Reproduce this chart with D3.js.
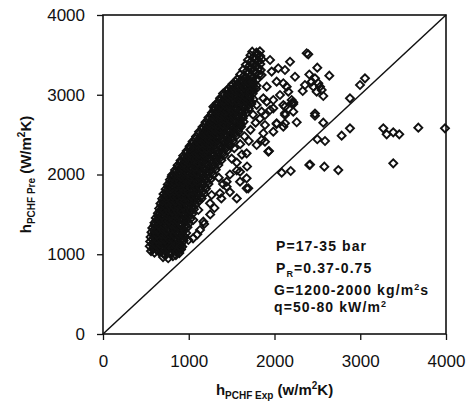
<!DOCTYPE html>
<html>
<meta charset="utf-8">
<head>
<script src="https://d3js.org/d3.v7.min.js"></script>
<style>
  body { margin: 0; background: #fff; }
  text { font-family: "Liberation Sans", Arial, sans-serif; fill: #111; }
</style>
</head>
<body>
<div id="chart"></div>
<script>
// tick values for both axes
var ticksX = [0, 1000, 2000, 3000, 4000];
var ticksY = [0, 1000, 2000, 3000, 4000];

// dense band of points [h exp, h pre]
var denseBand = [
  [700,965],[760,950],[815,975],[850,990],
  [560,1040],[600,1020],[650,1035],[700,1010],[745,1045],[795,1025],[850,1040],[890,1015],
  [545,1100],[590,1080],[640,1095],[690,1075],[735,1105],[780,1085],[830,1100],[880,1080],[925,1095],
  [550,1160],[600,1140],[645,1155],[695,1145],[740,1165],[790,1140],[840,1155],[890,1150],[940,1170],
  [555,1215],[605,1200],[650,1220],[700,1205],[750,1225],[800,1210],[850,1195],[900,1220],[955,1210],
  [565,1275],[615,1260],[660,1280],[710,1265],[760,1285],[810,1270],[860,1255],[915,1280],[970,1265],
  [575,1330],[625,1345],[670,1320],[720,1340],[770,1325],[820,1345],[870,1330],[925,1320],[985,1340],
  [600,1395],[645,1380],[690,1400],[740,1385],[790,1405],[840,1390],[890,1375],[945,1400],[1000,1385],
  [615,1455],[660,1440],[710,1460],[760,1445],[810,1465],[860,1450],[910,1435],[960,1455],[1020,1445],
  [640,1515],[685,1500],[730,1520],[780,1505],[830,1525],[880,1510],[930,1495],[985,1515],[1040,1505],
  [655,1575],[700,1560],[745,1580],[795,1565],[845,1585],[895,1570],[950,1555],[1005,1575],[1060,1565],
  [670,1635],[715,1620],[760,1640],[810,1625],[860,1645],[910,1630],[965,1615],[1020,1635],[1080,1625],
  [690,1695],[735,1680],[780,1700],[830,1685],[880,1705],[930,1690],[985,1675],[1040,1695],[1100,1685],[1150,1700],
  [705,1755],[750,1740],[800,1760],[850,1745],[900,1765],[950,1750],[1005,1735],[1060,1755],[1120,1745],[1180,1760],
  [730,1815],[775,1800],[825,1820],[875,1805],[925,1825],[975,1810],[1030,1795],[1085,1815],[1140,1805],[1200,1820],
  [755,1875],[800,1860],[850,1880],[900,1865],[950,1885],[1000,1870],[1055,1855],[1110,1875],[1170,1865],[1230,1880],
  [780,1935],[825,1920],[875,1940],[925,1925],[975,1945],[1025,1930],[1080,1915],[1135,1935],[1195,1925],[1255,1940],
  [805,1995],[850,1980],[900,2000],[950,1985],[1000,2005],[1050,1990],[1105,1975],[1160,1995],[1220,1985],[1285,2000],
  [840,2055],[885,2040],[935,2060],[985,2045],[1035,2065],[1085,2050],[1140,2035],[1195,2055],[1255,2045],[1315,2060],
  [870,2115],[915,2100],[965,2120],[1015,2105],[1065,2125],[1115,2110],[1170,2095],[1225,2115],[1285,2105],[1345,2120],
  [905,2175],[950,2160],[1000,2180],[1050,2165],[1100,2185],[1150,2170],[1205,2155],[1260,2175],[1320,2165],[1380,2180],
  [935,2235],[980,2220],[1030,2240],[1080,2225],[1130,2245],[1180,2230],[1235,2215],[1290,2235],[1350,2225],[1410,2240],
  [975,2295],[1020,2280],[1070,2300],[1120,2285],[1170,2305],[1220,2290],[1275,2275],[1330,2295],[1390,2285],[1450,2300],
  [1010,2355],[1055,2340],[1105,2360],[1155,2345],[1205,2365],[1255,2350],[1310,2335],[1365,2355],[1425,2345],[1485,2360],
  [1045,2415],[1090,2400],[1140,2420],[1190,2405],[1240,2425],[1290,2410],[1345,2395],[1400,2415],[1460,2405],[1515,2420],
  [1085,2475],[1130,2460],[1180,2480],[1230,2465],[1280,2485],[1330,2470],[1385,2455],[1440,2475],[1495,2465],[1550,2480],
  [1120,2535],[1165,2520],[1215,2540],[1265,2525],[1315,2545],[1365,2530],[1420,2515],[1475,2535],[1530,2525],[1580,2540],
  [1160,2595],[1205,2580],[1255,2600],[1305,2585],[1355,2605],[1405,2590],[1460,2575],[1510,2595],[1565,2585],[1610,2600],
  [1195,2655],[1240,2640],[1290,2660],[1340,2645],[1390,2665],[1440,2650],[1490,2635],[1545,2655],[1600,2645],[1640,2660],
  [1230,2715],[1275,2700],[1325,2720],[1375,2705],[1425,2725],[1475,2710],[1525,2695],[1580,2715],[1630,2705],
  [1270,2775],[1315,2760],[1365,2780],[1415,2765],[1465,2785],[1515,2770],[1565,2755],[1620,2775],[1670,2765],
  [1300,2835],[1345,2820],[1395,2840],[1445,2825],[1495,2845],[1545,2830],[1600,2815],[1650,2835],[1700,2825],
  [1330,2895],[1375,2880],[1425,2900],[1475,2885],[1525,2905],[1575,2890],[1630,2875],[1680,2895],[1730,2885],
  [1365,2955],[1410,2940],[1460,2960],[1510,2945],[1560,2965],[1610,2950],[1660,2935],[1710,2955],[1755,2945],
  [1400,3015],[1450,3000],[1500,3020],[1550,3005],[1600,3025],[1650,3010],[1700,2995],[1745,3015],
  [1460,3075],[1505,3060],[1555,3080],[1605,3065],[1655,3085],[1700,3070],[1750,3055],[1785,3075],
  [1510,3135],[1555,3120],[1605,3140],[1650,3125],[1700,3145],[1745,3130],[1790,3115],
  [1565,3195],[1610,3180],[1655,3200],[1700,3185],[1745,3205],[1795,3190],
  [1600,3255],[1645,3240],[1690,3260],[1735,3245],[1780,3265],[1820,3250],
  [1635,3315],[1680,3300],[1720,3320],[1765,3305],[1810,3325],[1840,3310],
  [1665,3375],[1705,3360],[1745,3380],[1790,3365],[1835,3385],
  [1690,3435],[1730,3420],[1770,3440],[1815,3425],[1850,3445],
  [1720,3495],[1760,3480],[1800,3500],[1835,3485],
  [1740,3540],[1790,3530],[1830,3545]
];

// more points packed between the rows above, where the band is solid black
var denseFill = [
  [730,990],[790,1000],
  [580,1065],[625,1055],[675,1070],[720,1060],[770,1070],[820,1058],[870,1068],[910,1060],
  [570,1125],[615,1120],[665,1130],[715,1118],[760,1128],[810,1120],[860,1130],[905,1122],
  [575,1185],[625,1180],[670,1190],[720,1178],[770,1188],[820,1180],[870,1190],[920,1182],
  [580,1245],[630,1240],[680,1250],[730,1238],[780,1248],[830,1240],[880,1250],[935,1242],
  [590,1305],[640,1300],[690,1310],[740,1298],[790,1308],[840,1300],[895,1310],[950,1302],
  [600,1365],[650,1360],[700,1370],[750,1358],[800,1368],[850,1360],[905,1370],[965,1362],
  [625,1425],[670,1420],[720,1430],[770,1418],[820,1428],[870,1420],[925,1430],[985,1422],
  [640,1485],[690,1480],[740,1490],[790,1478],[840,1488],[890,1480],[945,1490],[1005,1482],
  [665,1545],[710,1540],[760,1550],[810,1538],[860,1548],[910,1540],[965,1550],[1025,1542],
  [680,1605],[725,1600],[775,1610],[825,1598],[875,1608],[930,1600],[985,1610],[1045,1602],
  [695,1665],[745,1660],[795,1670],[845,1658],[895,1668],[950,1660],[1005,1670],[1065,1662],[1120,1668],
  [715,1725],[765,1720],[815,1730],[865,1718],[915,1728],[970,1720],[1025,1730],[1085,1722],[1145,1728],
  [735,1785],[785,1780],[835,1790],[885,1778],[935,1788],[990,1780],[1045,1790],[1105,1782],[1165,1788],
  [760,1845],[810,1840],[860,1850],[910,1838],[960,1848],[1015,1840],[1070,1850],[1130,1842],[1190,1848],
  [785,1905],[835,1900],[885,1910],[935,1898],[985,1908],[1040,1900],[1095,1910],[1155,1902],[1215,1908],
  [810,1965],[860,1960],[910,1970],[960,1958],[1010,1968],[1065,1960],[1120,1970],[1180,1962],[1240,1968],
  [840,2025],[890,2020],[940,2030],[990,2018],[1040,2028],[1095,2020],[1150,2030],[1210,2022],[1270,2028],
  [870,2085],[920,2080],[970,2090],[1020,2078],[1070,2088],[1125,2080],[1180,2090],[1240,2082],[1300,2088],
  [900,2145],[950,2140],[1000,2150],[1050,2138],[1100,2148],[1155,2140],[1210,2150],[1270,2142],[1330,2148],
  [935,2205],[985,2200],[1035,2210],[1085,2198],[1135,2208],[1190,2200],[1245,2210],[1305,2202],[1365,2208],
  [970,2265],[1020,2260],[1070,2270],[1120,2258],[1170,2268],[1225,2260],[1280,2270],[1340,2262],[1400,2268],
  [1005,2325],[1055,2320],[1105,2330],[1155,2318],[1205,2328],[1260,2320],[1315,2330],[1375,2322],[1435,2328],
  [1040,2385],[1090,2380],[1140,2390],[1190,2378],[1240,2388],[1295,2380],[1350,2390],[1410,2382],[1470,2388],
  [1080,2445],[1130,2440],[1180,2450],[1230,2438],[1280,2448],[1335,2440],[1390,2450],[1450,2442],[1505,2448],
  [1115,2505],[1165,2500],[1215,2510],[1265,2498],[1315,2508],[1370,2500],[1425,2510],[1485,2502],[1540,2508],
  [1155,2565],[1205,2560],[1255,2570],[1305,2558],[1355,2568],[1410,2560],[1465,2570],[1520,2562],[1575,2568],
  [1190,2625],[1240,2620],[1290,2630],[1340,2618],[1390,2628],[1445,2620],[1500,2630],[1555,2622],[1610,2628],
  [1225,2685],[1275,2680],[1325,2690],[1375,2678],[1425,2688],[1480,2680],[1535,2690],[1590,2682],
  [1265,2745],[1315,2740],[1365,2750],[1415,2738],[1465,2748],[1520,2740],[1575,2750],[1630,2742],
  [1295,2805],[1345,2800],[1395,2810],[1445,2798],[1495,2808],[1550,2800],[1605,2810],[1660,2802],
  [1325,2865],[1375,2860],[1425,2870],[1475,2858],[1525,2868],[1580,2860],[1635,2870],[1690,2862],
  [1360,2925],[1410,2920],[1460,2930],[1510,2918],[1560,2928],[1615,2920],[1670,2930],[1720,2922],
  [1400,2985],[1450,2980],[1500,2990],[1550,2978],[1600,2988],[1655,2980],[1710,2990],
  [1440,3045],[1490,3040],[1540,3050],[1590,3038],[1640,3048],[1690,3040],[1740,3050],
  [1495,3105],[1545,3100],[1595,3110],[1645,3098],[1695,3108],[1745,3100],
  [1545,3165],[1595,3160],[1645,3170],[1695,3158],[1745,3168]
];

// scattered points right of the band and towards the diagonal
var scatterPts = [
  [800,1075],[859,1032],[898,1095],[995,1179],[1131,1304],[1170,1408],[1053,1430],[1112,1555],
  [1248,1639],[1267,1743],[1364,1764],[1442,1847],[1598,1910],[1675,1827],[1442,1910],
  [1598,2035],[1675,1952],[1694,1827],[1928,2287],[1675,2266],[1792,2370],[1870,2517],[1889,2621],
  [1287,2850],[1015,2329],[801,1972],[2025,2633],[2122,2642],[2103,2871],[2219,2884],[1986,2537],
  [1948,3436],[2044,3332],[2122,3310],[2181,3414],[2239,3226],[2375,3520],[2355,3122],[2142,3101],
  [2064,2997],[2122,2746],[2200,2934],[2219,2788],[1948,2809],[1986,2934],[1870,2955],[1792,2872],
  [2025,3164],[1909,3101],[1850,3248],[1967,3290],[1714,3039],
  [2394,3507],[2499,3339],[2639,3239],[2406,3254],[2103,3144],[2161,3039],[2219,2905],[2122,2850],
  [2329,3047],[2433,3164],[2472,3206],[2511,3144],[2531,3101],[2550,3060],[2453,3101],[2492,3039],
  [2569,2984],[2472,2765],[2880,2955],[2997,3122],[3055,3206],
  [2472,2737],[2569,2650],[2259,2655],[2880,2579],[2783,2487],[2499,2442],[2589,2420],[1936,2295],
  [2406,2119],[2415,2125],[2581,2098],[2744,2056],[2084,2023],[2189,2044],
  [3269,2579],[3308,2504],[3385,2529],[3455,2504],[3677,2587],[3988,2579],[3385,2140],
  [1909,2913],[1986,2830],[2200,2893],[2122,2768],[1889,2746],[1850,2788],[2025,2642],
  [2103,2600],[1889,2412],[1850,2433],
  [1500,2200],[1560,2150],[1620,2250],[1530,2330],[1600,2380],[1700,2420],[1650,2480],[1720,2560],
  [1780,2650],[1830,2700],[1750,2750],[1680,2100],[1560,2050],[1480,2000],[1400,1880],[1350,1960],
  [1480,1780],[1560,1700],[1380,1700],[1300,1580],[1250,1500],[1180,1380],[1100,1250],[1050,1200]
];

// annotation lines
var noteLines = [
  {main: "P=17-35 bar"},
  {main: "P", sub: "R", rest: "=0.37-0.75"},
  {main: "G=1200-2000 kg/m", sup: "2", rest: "s"},
  {main: "q=50-80 kW/m", sup: "2"}
];

var width = 472, height = 403;

var x = d3.scaleLinear().domain([0, 4000]).range([103, 446]);
var y = d3.scaleLinear().domain([0, 4000]).range([334, 15]);

var svg = d3.select("#chart").append("svg")
    .attr("width", width)
    .attr("height", height);

// diagonal line y = x
svg.append("line")
    .attr("x1", x(0)).attr("y1", y(0))
    .attr("x2", x(4000)).attr("y2", y(4000))
    .attr("stroke", "#111").attr("stroke-width", 1.5);

// diamonds
var diamond = d3.symbol().type(d3.symbolSquare).size(32);
svg.append("g").selectAll("path")
    .data(denseBand.concat(denseFill, scatterPts))
    .join("path")
    .attr("d", diamond)
    .attr("transform", function(d) { return "translate(" + x(d[0]) + "," + y(d[1]) + ") rotate(45)"; })
    .attr("fill", "none")
    .attr("stroke", "#111")
    .attr("stroke-width", 1.9);

// frame
svg.append("rect")
    .attr("x", x(0)).attr("y", y(4000))
    .attr("width", x(4000) - x(0)).attr("height", y(0) - y(4000))
    .attr("fill", "none").attr("stroke", "#111").attr("stroke-width", 1.6);

// axes
var xAxis = svg.append("g")
    .attr("transform", "translate(0," + y(0) + ")")
    .call(d3.axisBottom(x).tickValues(ticksX).tickFormat(d3.format("d"))
      .tickSize(6).tickSizeOuter(0).tickPadding(15));
var yAxis = svg.append("g")
    .attr("transform", "translate(" + x(0) + ",0)")
    .call(d3.axisLeft(y).tickValues(ticksY).tickFormat(d3.format("d"))
      .tickSize(6).tickSizeOuter(0).tickPadding(12));

[xAxis, yAxis].forEach(function(a) {
  a.select(".domain").remove();
  a.selectAll("line").attr("stroke", "#111").attr("stroke-width", 1.3);
  a.selectAll("text")
    .attr("font-family", "'Liberation Sans', Arial, sans-serif")
    .attr("font-size", 17)
    .attr("fill", "#111");
});

// axis titles
var xt = svg.append("text")
    .attr("x", (x(0) + x(4000)) / 2).attr("y", 395)
    .attr("text-anchor", "middle")
    .attr("font-weight", "bold").attr("font-size", 15);
xt.append("tspan").text("h");
xt.append("tspan").attr("font-size", 10).attr("dy", 4).text("PCHF Exp");
xt.append("tspan").attr("dy", -4).text(" (w/m");
xt.append("tspan").attr("font-size", 10).attr("dy", -6).text("2");
xt.append("tspan").attr("dy", 6).text("K)");

var yt = svg.append("text")
    .attr("transform", "translate(31," + (y(0) + y(4000)) / 2 + ") rotate(-90)")
    .attr("text-anchor", "middle")
    .attr("font-weight", "bold").attr("font-size", 15);
yt.append("tspan").text("h");
yt.append("tspan").attr("font-size", 10).attr("dy", 4).text("PCHF Pre");
yt.append("tspan").attr("dy", -4).text(" (W/m");
yt.append("tspan").attr("font-size", 10).attr("dy", -6).text("2");
yt.append("tspan").attr("dy", 6).text("K)");

// annotation
var noteX = [276, 276, 274, 274];
var noteY = [251, 273, 295, 312];
noteLines.forEach(function(n, i) {
  var t = svg.append("text")
      .attr("x", noteX[i]).attr("y", noteY[i])
      .attr("font-weight", "bold").attr("font-size", 14)
      .attr("letter-spacing", 1.1);
  t.append("tspan").text(n.main);
  if (n.sub) {
    t.append("tspan").attr("font-size", 9).attr("dy", 4).text(n.sub);
    t.append("tspan").attr("dy", -4).text(n.rest);
  }
  if (n.sup) {
    t.append("tspan").attr("font-size", 9).attr("dy", -5).text(n.sup);
    if (n.rest) t.append("tspan").attr("dy", 5).text(n.rest);
  }
});
</script>
</body>
</html>
